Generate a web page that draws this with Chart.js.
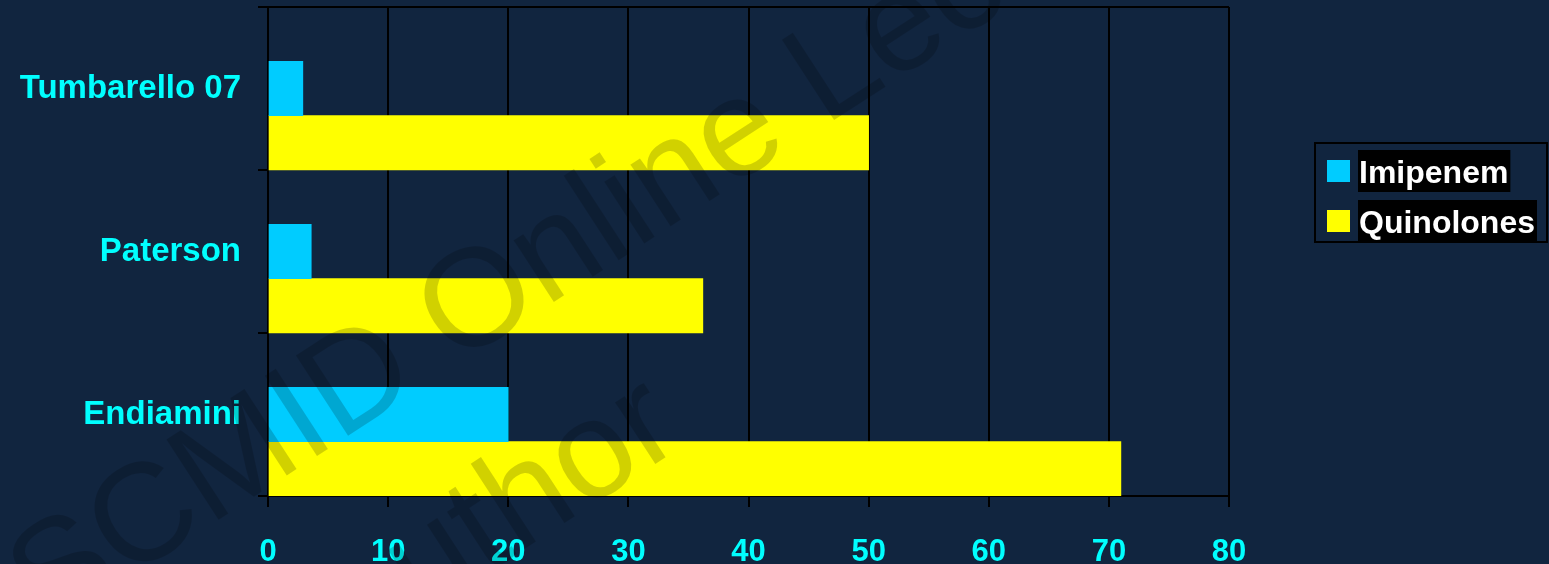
<!DOCTYPE html>
<html>
<head>
<meta charset="utf-8">
<script src="https://cdn.jsdelivr.net/npm/chart.js@4/dist/chart.umd.min.js"></script>
<style>
  html, body { margin: 0; padding: 0; background: #11253f; overflow: hidden; }
  #wrap { width: 1549px; height: 564px; position: relative; }
</style>
</head>
<body>
<div id="wrap"><canvas id="chart"></canvas></div>
<script>
// Chart data
const categories = ['Tumbarello 07', 'Paterson', 'Endiamini']
const imipenem = [2.9, 3.6, 20]
const quinolones = [50, 36.2, 71]
const seriesNames = ['Imipenem', 'Quinolones']
const seriesColors = ['#00ccff', '#ffff00']
const xMin = 0
const xMax = 80
const xStep = 10
const watermarkLines = ['ESCMID Online Lecture Library', '\u00a9 by author']

const FONT = "'Liberation Sans', Arial, sans-serif"

// paints the page background behind the chart
const background = {
  id: 'background',
  beforeDraw(chart) {
    const ctx = chart.ctx
    ctx.save()
    ctx.fillStyle = '#11253f'
    ctx.fillRect(0, 0, chart.width, chart.height)
    ctx.restore()
  }
}

// top frame line of the plot area
const topLine = {
  id: 'topLine',
  afterDatasetsDraw(chart) {
    const { ctx, chartArea } = chart
    ctx.save()
    ctx.strokeStyle = '#000'
    ctx.lineWidth = 2
    ctx.beginPath()
    ctx.moveTo(chartArea.left, chartArea.top)
    ctx.lineTo(chartArea.right, chartArea.top)
    ctx.stroke()
    ctx.restore()
  }
}

// legend box on the right, text on black background
const sideLegend = {
  id: 'sideLegend',
  afterDraw(chart) {
    const ctx = chart.ctx
    ctx.save()
    ctx.strokeStyle = '#000'
    ctx.lineWidth = 2
    ctx.strokeRect(1315, 143, 232, 99)
    ctx.font = 'bold 32px ' + FONT
    ctx.textBaseline = 'alphabetic'
    const items = chart.data.datasets.filter(d => d.label)
    items.forEach((ds, i) => {
      const cy = 171 + i * 50
      ctx.fillStyle = ds.backgroundColor
      ctx.fillRect(1327, cy - 11, 23, 22)
      const w = ctx.measureText(ds.label).width
      ctx.fillStyle = '#000'
      ctx.fillRect(1358, cy - 21, w + 3, 42)
      ctx.fillStyle = '#fff'
      ctx.fillText(ds.label, 1359, cy + 12)
    })
    ctx.restore()
  }
}

// diagonal watermark over everything
const watermark = {
  id: 'watermark',
  afterDraw(chart) {
    const ctx = chart.ctx
    ctx.save()
    ctx.translate(473, 295)
    ctx.rotate(-33 * Math.PI / 180)
    ctx.font = '139px ' + FONT
    ctx.fillStyle = 'rgba(0, 0, 0, 0.18)'
    ctx.textBaseline = 'alphabetic'
    ctx.fillText(watermarkLines[0], -633, 50)
    ctx.fillText(watermarkLines[1], -623, 241)
    ctx.restore()
  }
}

const chart = new Chart(document.getElementById('chart'), {
  type: 'bar',
  data: {
    labels: categories,
    datasets: [
      // empty slot that keeps the bars in the lower part of each band
      { label: '', data: categories.map(() => null), backgroundColor: 'transparent' },
      { label: seriesNames[0], data: imipenem, backgroundColor: seriesColors[0] },
      { label: seriesNames[1], data: quinolones, backgroundColor: seriesColors[1] }
    ]
  },
  options: {
    indexAxis: 'y',
    responsive: true,
    maintainAspectRatio: false,
    animation: false,
    categoryPercentage: 1,
    barPercentage: 1,
    layout: { padding: { top: 7, right: 320, left: 0, bottom: 0 } },
    plugins: {
      legend: { display: false },
      tooltip: { enabled: false }
    },
    scales: {
      x: {
        min: xMin,
        max: xMax,
        ticks: {
          stepSize: xStep,
          color: '#00ffff',
          padding: 27,
          font: { family: FONT, size: 31, weight: 'bold' }
        },
        grid: { color: '#000', lineWidth: 2, tickLength: 11 },
        border: { color: '#000', width: 2 },
        afterFit(scale) { scale.height = 68 }
      },
      y: {
        offset: true,
        ticks: {
          color: '#00ffff',
          padding: 17,
          font: { family: FONT, size: 33, weight: 'bold' }
        },
        grid: { offset: true, drawOnChartArea: false, color: '#000', lineWidth: 2, tickLength: 10 },
        border: { color: '#000', width: 2 },
        afterFit(scale) {
          scale.width = 268
          scale.paddingTop = 0
          scale.paddingBottom = 0
        }
      }
    }
  },
  plugins: [background, topLine, sideLegend, watermark]
})
</script>
</body>
</html>
